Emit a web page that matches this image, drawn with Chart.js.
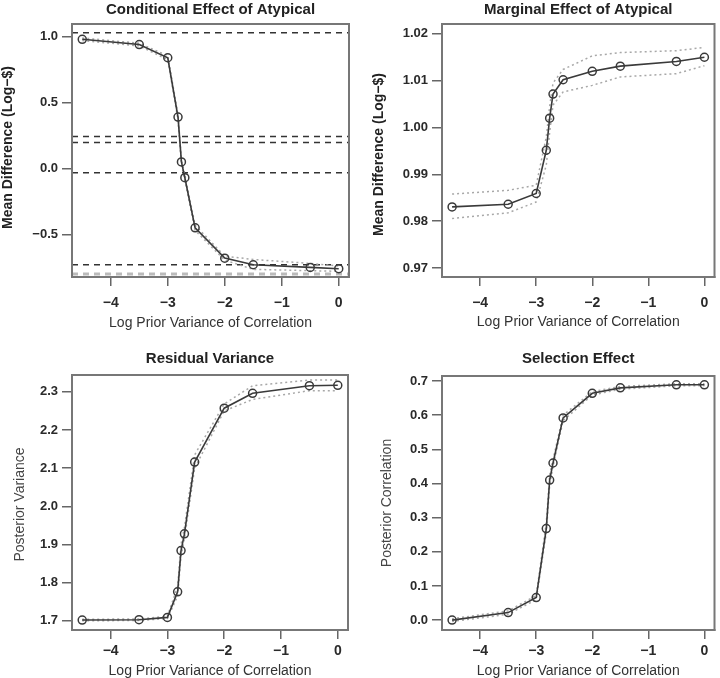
<!DOCTYPE html>
<html>
<head>
<meta charset="utf-8">
<script src="https://cdn.jsdelivr.net/npm/chart.js@4.4.1/dist/chart.umd.min.js"></script>
<style>
body { margin: 0; background: #fff; }
#wrap { position: relative; width: 720px; height: 678px; }
.panel { position: absolute; width: 360px; height: 339px; }
</style>
</head>
<body>
<div id="wrap">
  <div class="panel" style="left:0;top:0"><canvas id="c1" width="360" height="339"></canvas></div>
  <div class="panel" style="left:360px;top:0"><canvas id="c2" width="360" height="339"></canvas></div>
  <div class="panel" style="left:0;top:339px"><canvas id="c3" width="360" height="339"></canvas></div>
  <div class="panel" style="left:360px;top:339px"><canvas id="c4" width="360" height="339"></canvas></div>
</div>
<script>
// log prior variance of correlation (x for every panel)
const logVar = [-4.5, -3.5, -3, -2.82, -2.76, -2.7, -2.52, -2, -1.5, -0.5, 0];
const xTicks = [-4, -3, -2, -1, 0];

// conditional effect of atypical
const condMean  = [0.98, 0.94, 0.84, 0.39, 0.05, -0.07, -0.45, -0.68, -0.73, -0.75, -0.76];
const condUpper = [0.99, 0.95, 0.855, 0.41, 0.07, -0.05, -0.43, -0.665, -0.69, -0.72, -0.74];
const condLower = [0.97, 0.93, 0.825, 0.37, 0.03, -0.09, -0.47, -0.695, -0.765, -0.775, -0.78];
const condRefLines = [1.03, 0.242, 0.197, -0.033, -0.73];
const condRefGray = [-0.80];
const condTicks = [-0.5, 0, 0.5, 1.0];

// marginal effect of atypical
const margMean  = [0.98306, 0.98363, 0.98592, 0.99515, 1.002, 1.00715, 1.0102, 1.012, 1.0131, 1.0141, 1.015];
const margUpper = [0.9858, 0.9866, 0.9877, 0.998, 1.0045, 1.0095, 1.0124, 1.0153, 1.016, 1.0164, 1.0171];
const margLower = [0.98057, 0.9818, 0.9841, 0.992, 0.999, 1.0048, 1.0076, 1.009, 1.0108, 1.0115, 1.0132];
const margTicks = [0.97, 0.98, 0.99, 1.00, 1.01, 1.02];

// residual variance
const resMean  = [1.702, 1.703, 1.709, 1.776, 1.884, 1.928, 2.116, 2.257, 2.296, 2.316, 2.317];
const resUpper = [1.704, 1.705, 1.712, 1.79, 1.90, 1.945, 2.135, 2.268, 2.316, 2.331, 2.331];
const resLower = [1.700, 1.701, 1.706, 1.765, 1.87, 1.915, 2.10, 2.25, 2.28, 2.303, 2.303];
const resTicks = [1.7, 1.8, 1.9, 2.0, 2.1, 2.2, 2.3];

// selection effect
const selMean  = [0.0, 0.022, 0.066, 0.268, 0.41, 0.46, 0.592, 0.664, 0.68, 0.689, 0.689];
const selUpper = [0.004, 0.027, 0.072, 0.285, 0.425, 0.47, 0.6, 0.669, 0.684, 0.692, 0.692];
const selLower = [-0.004, 0.017, 0.06, 0.255, 0.395, 0.45, 0.584, 0.659, 0.676, 0.686, 0.686];
const selTicks = [0, 0.1, 0.2, 0.3, 0.4, 0.5, 0.6, 0.7];

const FONT = '"Liberation Sans", Arial, Helvetica, sans-serif';
const XLABEL = 'Log Prior Variance of Correlation';

function pts(ys) {
    return logVar.map((x, i) => ({ x: x, y: ys[i] }));
}

function fmtNum(v, digits) {
    let s = Math.abs(v).toFixed(digits);
    return (v < -1e-9 ? '\u2212' : '') + s;
}

function makePanel(id, p) {
    let ctx = document.getElementById(id).getContext('2d');

    let decor = {
        id: 'decor',
        beforeDatasetsDraw(chart) {
            let c = chart.ctx, a = chart.chartArea, ys = chart.scales.y;
            c.save();
            c.lineWidth = 1.5;
            c.setLineDash([6, 5]);
            c.strokeStyle = '#333';
            (p.refLines || []).forEach(v => {
                let y = ys.getPixelForValue(v);
                c.beginPath(); c.moveTo(a.left, y); c.lineTo(a.right, y); c.stroke();
            });
            c.strokeStyle = '#bbb';
            c.lineWidth = 3;
            (p.refGray || []).forEach(v => {
                let y = ys.getPixelForValue(v);
                c.beginPath(); c.moveTo(a.left, y); c.lineTo(a.right, y); c.stroke();
            });
            c.restore();
        },
        afterDraw(chart) {
            let c = chart.ctx, a = chart.chartArea;
            c.save();
            c.strokeStyle = '#777';
            c.lineWidth = 2;
            c.strokeRect(a.left, a.top, a.right - a.left, a.bottom - a.top);
            c.fillStyle = '#222';
            c.textAlign = 'center';
            c.textBaseline = 'middle';
            c.font = 'bold 15px ' + FONT;
            c.fillText(p.title, (a.left + a.right) / 2, p.titleY);
            c.fillStyle = '#333';
            c.font = '14px ' + FONT;
            c.fillText(XLABEL, (a.left + a.right) / 2, p.xLabelY);
            c.translate(p.yLabelX, (a.top + a.bottom) / 2 + p.yLabelShift);
            c.rotate(-Math.PI / 2);
            c.font = (p.yLabelBold ? 'bold ' : '') + '14px ' + FONT;
            c.fillStyle = p.yLabelBold ? '#222' : '#444';
            c.fillText(p.yLabel, 0, 0);
            c.restore();
        }
    };

    return new Chart(ctx, {
        type: 'line',
        data: {
            datasets: [
                {
                    data: pts(p.upper),
                    borderColor: '#a8a8a8',
                    borderWidth: 1.5,
                    borderDash: [2, 3],
                    pointRadius: 0,
                    order: 2,
                },
                {
                    data: pts(p.lower),
                    borderColor: '#a8a8a8',
                    borderWidth: 1.5,
                    borderDash: [2, 3],
                    pointRadius: 0,
                    order: 2,
                },
                {
                    data: pts(p.mean),
                    borderColor: '#3a3a3a',
                    borderWidth: 1.6,
                    pointRadius: 4,
                    pointBackgroundColor: 'rgba(255,255,255,0)',
                    pointBorderColor: '#3a3a3a',
                    pointBorderWidth: 1.5,
                    order: 1,
                },
            ],
        },
        options: {
            responsive: false,
            animation: false,
            layout: { padding: { top: p.top, right: 360 - p.right, left: 0, bottom: 0 } },
            plugins: { legend: { display: false }, tooltip: { enabled: false } },
            scales: {
                x: {
                    type: 'linear',
                    min: -4.68,
                    max: 0.18,
                    afterBuildTicks: s => { s.ticks = xTicks.map(v => ({ value: v })); },
                    afterFit: s => { s.height = 339 - p.bottom; },
                    grid: { drawOnChartArea: false, drawTicks: true, tickLength: 9, color: '#666', lineWidth: 1.5 },
                    border: { display: true, color: '#777', width: 2 },
                    ticks: {
                        autoSkip: false,
                        maxRotation: 0,
                        padding: p.xTickPad,
                        color: '#2a2a2a',
                        font: { family: FONT, size: 14, weight: 'bold' },
                        callback: v => fmtNum(v, 0),
                    },
                },
                y: {
                    type: 'linear',
                    min: p.ymin,
                    max: p.ymax,
                    afterBuildTicks: s => { s.ticks = p.ticks.map(v => ({ value: v })); },
                    afterFit: s => { s.width = p.left; },
                    grid: { drawOnChartArea: false, drawTicks: true, tickLength: 10, color: '#666', lineWidth: 1.5 },
                    border: { display: true, color: '#777', width: 2 },
                    ticks: {
                        autoSkip: false,
                        padding: 4,
                        color: '#2a2a2a',
                        font: { family: FONT, size: 13, weight: 'bold' },
                        callback: v => fmtNum(v, p.digits),
                    },
                },
            },
        },
        plugins: [decor],
    });
}

makePanel('c1', {
    title: 'Conditional Effect of Atypical', yLabel: 'Mean Difference (Log\u2212$)', yLabelBold: true,
    mean: condMean, upper: condUpper, lower: condLower, refLines: condRefLines, refGray: condRefGray,
    ticks: condTicks, digits: 1, ymin: -0.823, ymax: 1.096,
    left: 72, right: 349, top: 24, bottom: 277, titleY: 10, xLabelY: 323, yLabelX: 8, yLabelShift: -3,
    xTickPad: 9,
});
makePanel('c2', {
    title: 'Marginal Effect of Atypical', yLabel: 'Mean Difference (Log\u2212$)', yLabelBold: true,
    mean: margMean, upper: margUpper, lower: margLower,
    ticks: margTicks, digits: 2, ymin: 0.9681, ymax: 1.0221,
    left: 82, right: 359, top: 24, bottom: 277, titleY: 10, xLabelY: 322, yLabelX: 19, yLabelShift: 4,
    xTickPad: 9,
});
makePanel('c3', {
    title: 'Residual Variance', yLabel: 'Posterior Variance', yLabelBold: false,
    mean: resMean, upper: resUpper, lower: resLower,
    ticks: resTicks, digits: 1, ymin: 1.676, ymax: 2.344,
    left: 72, right: 348, top: 36, bottom: 291, titleY: 20, xLabelY: 332, yLabelX: 20, yLabelShift: 2,
    xTickPad: 4,
});
makePanel('c4', {
    title: 'Selection Effect', yLabel: 'Posterior Correlation', yLabelBold: false,
    mean: selMean, upper: selUpper, lower: selLower,
    ticks: selTicks, digits: 1, ymin: -0.029, ymax: 0.7147,
    left: 82, right: 359, top: 37, bottom: 291, titleY: 20, xLabelY: 332, yLabelX: 27, yLabelShift: 0,
    xTickPad: 4,
});
</script>
</body>
</html>
